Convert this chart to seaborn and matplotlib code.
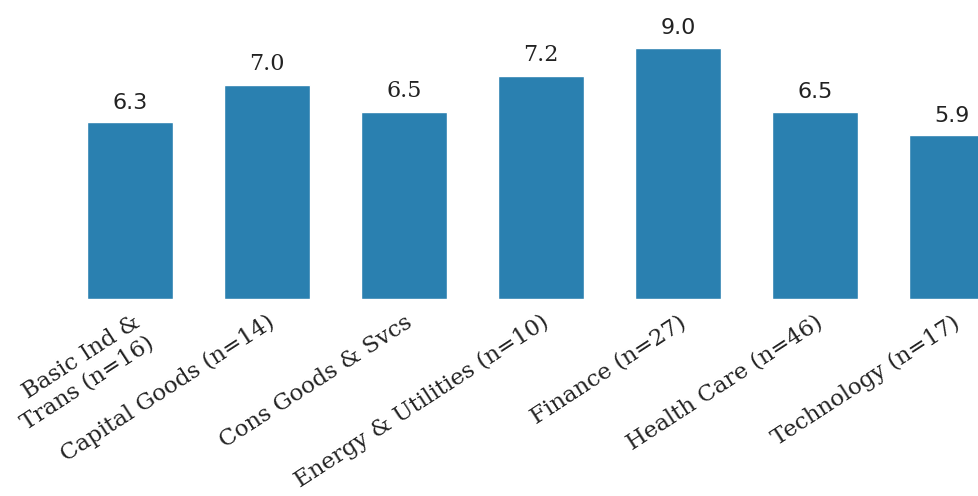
import matplotlib
matplotlib.use("Agg")
import matplotlib.pyplot as plt
import matplotlib.transforms as mtransforms
import seaborn as sns
import pandas as pd

categories = ["Basic Ind &\nTrans (n=16)", "Capital Goods (n=14)", "Cons Goods & Svcs",
              "Energy & Utilities (n=10)", "Finance (n=27)", "Health Care (n=46)",
              "Technology (n=17)"]
# bar heights as drawn in the picture
bar_heights = [6.33, 7.67, 6.71, 8.01, 9.0, 6.70, 5.87]
# value labels printed above the bars
label_values = [6.3, 7.0, 6.5, 7.2, 9.0, 6.5, 5.9]

label_fonts = ["DejaVu Sans", "DejaVu Serif", "DejaVu Serif", "DejaVu Serif",
               "DejaVu Sans", "DejaVu Sans", "DejaVu Sans"]

df = pd.DataFrame({"cat": categories, "val": bar_heights})

sns.set_theme(style="white")
fig = plt.figure(figsize=(9.79, 4.96), dpi=100)
ax = fig.add_axes([0, 0.398, 1, 0.602])

sns.barplot(data=df, x="cat", y="val", color="#2a80b0", saturation=1,
            width=0.63, ax=ax)

ax.set_xlim(-0.949, 6.197)
ax.set_ylim(0, 10.73)
for s in ax.spines.values():
    s.set_visible(False)
ax.set_yticks([])
ax.set_xlabel("")
ax.set_ylabel("")
ax.tick_params(axis="x", length=0, pad=16)

for c in ax.containers:
    texts = ax.bar_label(c, labels=[f"{v:.1f}" for v in label_values],
                         padding=7, fontsize=16, color="#222222")
    for t, f in zip(texts, label_fonts):
        t.set_fontfamily(f)

for i, lab in enumerate(ax.get_xticklabels()):
    dx, dy = (6, 0) if i > 0 else (15, -10)
    offset = mtransforms.ScaledTranslation(dx / 100, dy / 100, fig.dpi_scale_trans)
    lab.set_rotation(33)
    lab.set_ha("right")
    lab.set_va("center")
    lab.set_rotation_mode("anchor")
    lab.set_multialignment("right")
    lab.set_fontfamily("DejaVu Serif")
    lab.set_fontsize(16.5)
    lab.set_color("#222222")
    lab.set_transform(lab.get_transform() + offset)

fig.savefig("out.png", dpi=100)
